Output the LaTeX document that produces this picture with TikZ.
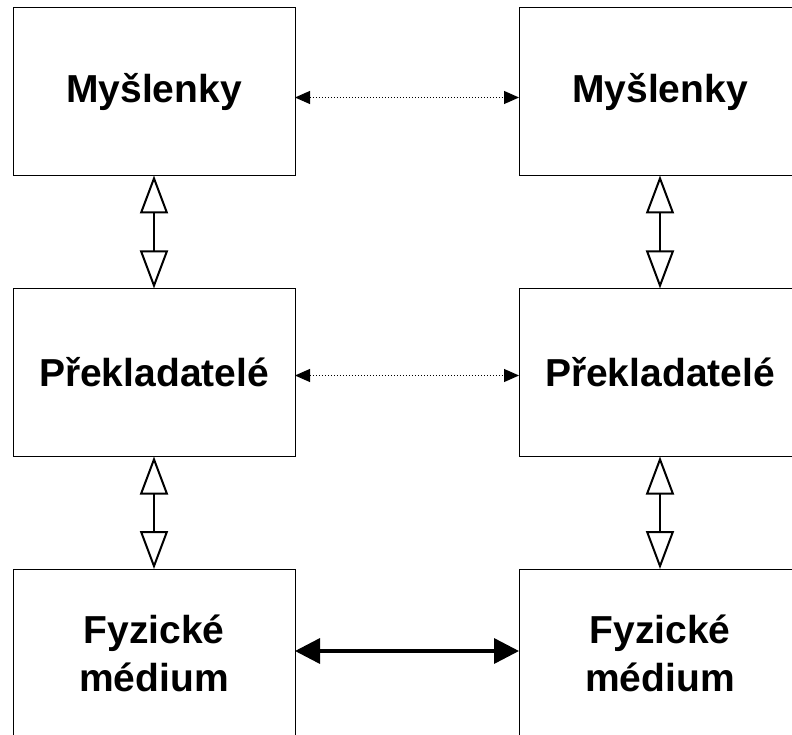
\documentclass[tikz,border=0pt]{standalone}
\usepackage{fontspec}
\setmainfont{Liberation Sans}
\usetikzlibrary{arrows.meta}
\begin{document}
\begin{tikzpicture}[x=1pt,y=-1pt,
  box/.style={draw=black, line width=1pt, rectangle, minimum width=282pt, minimum height=168pt,
    inner sep=0pt, outer sep=0pt, align=center,
    font=\fontsize{39}{48}\selectfont\bfseries},
  openarrow/.style={line width=2pt, {Triangle[open,length=38pt,width=28pt]}-{Triangle[open,length=38pt,width=28pt]}},
  dotarrow/.style={line width=1pt, dotted, {Triangle[length=15pt,width=13pt]}-{Triangle[length=15pt,width=13pt]}},
  solidarrow/.style={line width=3.5pt, {Triangle[length=25pt,width=25pt]}-{Triangle[length=25pt,width=25pt]}}
]
\useasboundingbox (0,0) rectangle (792,735);
\node[box] (L1) at (154,91.5) {Myšlenky};
\node[box] (R1) at (660,91.5) {Myšlenky};
\node[box] (L2) at (154,372.5) {Překladatelé};
\node[box] (R2) at (660,372.5) {Překladatelé};
\node[box] (L3) at (154,653) {Fyzické\\médium};
\node[box] (R3) at (660,653) {Fyzické\\médium};
\draw[openarrow] (L1.south) -- (L2.north);
\draw[openarrow] (L2.south) -- (L3.north);
\draw[openarrow] (R1.south) -- (R2.north);
\draw[openarrow] (R2.south) -- (R3.north);
\draw[dotarrow] ([yshift=-6pt]L1.east) -- ([yshift=-6pt]R1.west);
\draw[dotarrow] ([yshift=-3pt]L2.east) -- ([yshift=-3pt]R2.west);
\draw[solidarrow] ([yshift=2pt]L3.east) -- ([yshift=2pt]R3.west);
\end{tikzpicture}
\end{document}
